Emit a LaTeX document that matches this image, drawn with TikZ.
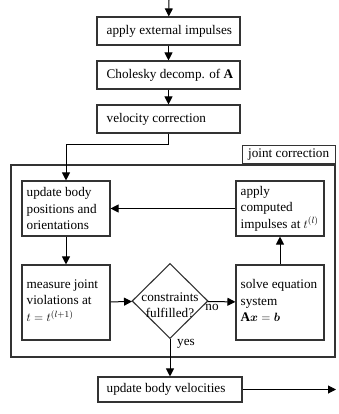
\documentclass[tikz,border=0pt]{standalone}
\usepackage{fontspec}
\setmainfont{Liberation Serif}
\usepackage{amsmath,bm}
\usetikzlibrary{shapes.geometric,arrows.meta}
\begin{document}
\begin{tikzpicture}[x=1pt,y=1pt,
  box/.style={draw=black!80, line width=1.1pt, rectangle, inner sep=0pt},
  txt/.style={inner sep=0pt, align=left, font=\fontsize{13.2}{16.5}\selectfont},
  arr/.style={-{Triangle[length=8pt,width=8pt]}, line width=1pt}]
\useasboundingbox (0,0) rectangle (338,-414);

\coordinate (start) at (169,0);
\node[box, minimum width=143, minimum height=28] (b1) at (168.5,-31) {};
\node[txt, anchor=west] (b1t) at ([xshift=10]b1.west) {apply external impulses};
\node[box, minimum width=143, minimum height=28] (b2) at (168.5,-75) {};
\node[txt, anchor=west] (b2t) at ([xshift=10]b2.west) {Cholesky decomp. of \textbf{A}};
\node[box, minimum width=143, minimum height=28] (b3) at (168.5,-119) {};
\node[txt, anchor=west] (b3t) at ([xshift=10]b3.west) {velocity correction};

% joint correction frame
\node[box, line width=1.4pt, minimum width=324, minimum height=192] (jc) at (173,-261) {};
\node[box, anchor=south east, minimum width=93, minimum height=18, font=\fontsize{13.2}{16.5}\selectfont] (jcl) at (jc.north east) {joint correction};

\node[box, minimum width=88, minimum height=55] (upd) at (66,-208.5) {};
\node[txt, anchor=west] (updt) at ([xshift=5]upd.west) {update body\\positions and\\orientations};
\node[box, minimum width=88, minimum height=55] (app) at (280,-208.5) {};
\node[txt, anchor=west] (appt) at ([xshift=5]app.west) {apply\\computed\\impulses at $t^{(l)}$};
\node[box, minimum width=88, minimum height=75] (mea) at (66,-302.5) {};
\node[txt, anchor=west] (meat) at ([xshift=5,yshift=2]mea.west) {measure joint\\violations at\\$t=t^{(l+1)}$};
\node[box, minimum width=88, minimum height=75] (sol) at (280,-302.5) {};
\node[txt, anchor=west] (solt) at ([xshift=5,yshift=2]sol.west) {solve equation\\system\\$\mathbf{A}\bm{x}=\bm{b}$};
\node[box, diamond, minimum width=76, minimum height=75] (dia) at (170,-301) {};
\node[txt, align=center] (diat) at (170,-305) {constraints\\fulfilled?};

\node[box, minimum width=144, minimum height=25] (vel) at (170,-389.5) {};
\node[txt, anchor=west] (velt) at ([xshift=9]vel.west) {update body velocities};
\coordinate (end) at (336,-389.5);

% connectors
\draw[arr] (start) -- (b1);
\draw[arr] (b1) -- (b2);
\draw[arr] (b2) -- (b3);
\draw[arr] (b3.south) -- ++(0,-11) -| (upd.north);
\draw[arr] (app) -- (upd);
\draw[arr] (upd) -- (mea);
\draw[arr] (mea) -- (dia);
\draw[arr] (dia) -- (sol);
\draw[arr] (sol) -- (app);
\draw[arr] (dia.south) -- (vel.north);
\draw[arr] (vel.east) -- (end);
\node[txt] (no) at (212,-307) {no};
\node[txt] (yes) at (186,-344) {yes};
\end{tikzpicture}
\end{document}
